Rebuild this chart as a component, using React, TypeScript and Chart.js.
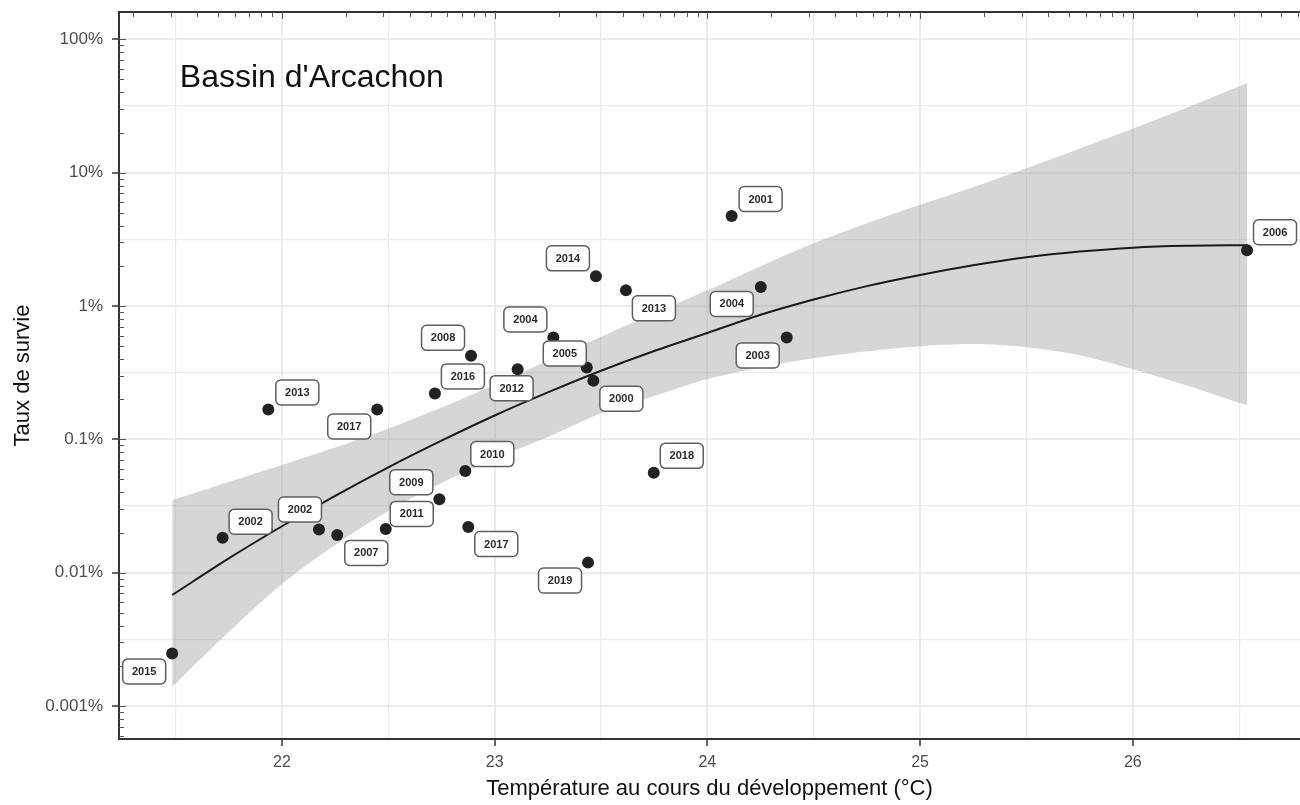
import React, { useEffect, useRef } from 'react';
import { Chart, registerables } from 'chart.js';

Chart.register(...registerables);

// ---- data ----
const yearLabels = ['2015', '2002', '2013', '2002', '2007', '2017', '2011', '2016', '2009', '2008', '2010', '2017',
  '2012', '2004', '2005', '2000', '2019', '2014', '2013', '2018', '2001', '2004', '2003', '2006'];
const temperature = [21.484, 21.721, 21.936, 22.174, 22.26, 22.448, 22.488, 22.719, 22.74, 22.889, 22.862, 22.876,
  23.108, 23.276, 23.433, 23.464, 23.439, 23.476, 23.617, 23.748, 24.114, 24.251, 24.373, 26.537];
const survivalPct = [0.00248, 0.0183, 0.1675, 0.0211, 0.0192, 0.1675, 0.0213, 0.221, 0.0356, 0.423, 0.0578, 0.022,
  0.336, 0.581, 0.346, 0.275, 0.0119, 1.67, 1.31, 0.0561, 4.73, 1.39, 0.581, 2.62];

// smoothed fit and its confidence band (values in %)
const fitTemp = [21.484, 21.75, 22, 22.25, 22.5, 22.75, 23, 23.25, 23.5, 23.75, 24, 24.25, 24.5, 24.75, 25, 25.25,
  25.5, 25.75, 26, 26.25, 26.537];
const fitMid = [0.0068, 0.0128, 0.0223, 0.0377, 0.0617, 0.0977, 0.151, 0.225, 0.327, 0.46, 0.628, 0.86, 1.12, 1.41,
  1.71, 2.02, 2.32, 2.56, 2.74, 2.83, 2.86];
const fitUpper = [0.035, 0.0478, 0.0641, 0.0867, 0.12, 0.173, 0.257, 0.389, 0.589, 0.883, 1.31, 1.99, 2.96, 4.18,
  5.75, 7.78, 10.8, 15.1, 21.4, 30.5, 47.0];
const fitLower = [0.00139, 0.00359, 0.00822, 0.0161, 0.029, 0.047, 0.0717, 0.104, 0.157, 0.211, 0.283, 0.348, 0.406,
  0.458, 0.5, 0.518, 0.491, 0.428, 0.336, 0.255, 0.18];

// axes
const xTickValues = [22, 23, 24, 25, 26];
const xTickLabels = ['22', '23', '24', '25', '26'];
const xGridValues = [21.5, 22, 22.5, 23, 23.5, 24, 24.5, 25, 25.5, 26, 26.5];
const yTickValues = [0.001, 0.01, 0.1, 1, 10, 100];
const yTickLabels = ['0.001%', '0.01%', '0.1%', '1%', '10%', '100%'];
const yGridValues = [0.001, 0.003162, 0.01, 0.03162, 0.1, 0.3162, 1, 3.162, 10, 31.62, 100];

const panelTitle = "Bassin d'Arcachon";
const xTitle = 'Température au cours du développement (°C)';
const yTitle = 'Taux de survie';

// label box offsets from their point (pixels, as placed by the repel layout)
const labelDX = [-28, 28, 29, -19, 29, -28, 26, 28, -28, -28, 27, 28, -6, -28, -22, 28, -28, -28, 28, 28, 29, -29, -29, 28];
const labelDY = [18, -16, -17, -20, 18, 17, -15, -17, -17, -18, -17, 17, 19, -18, -14, 18, 18, -18, 18, -17, -17, 17, 18, -18];

const FONT = '"Liberation Sans", Arial, Helvetica, sans-serif';

const xMajorIdx = (v: number) => xTickValues.findIndex((t) => Math.abs(t - v) < 1e-6);
const yMajorIdx = (v: number) => yTickValues.findIndex((t) => Math.abs(Math.log10(t) - Math.log10(v)) < 1e-4);

export default function App() {
  const ref = useRef<HTMLCanvasElement>(null);

  useEffect(() => {
    const canvas = ref.current;
    if (!canvas) return;
    Chart.defaults.font.family = FONT;

    const decor = {
      id: 'decor',
      afterDatasetsDraw(chart: any) {
        const { ctx, chartArea: a, scales } = chart;
        const xs = scales.x;
        const ys = scales.y;
        ctx.save();
        // top border of panel
        ctx.strokeStyle = '#333333';
        ctx.lineWidth = 2;
        ctx.beginPath();
        ctx.moveTo(a.left - 1, a.top);
        ctx.lineTo(a.right, a.top);
        ctx.stroke();

        // log ticks (left and top)
        ctx.strokeStyle = '#555555';
        ctx.lineWidth = 1;
        for (let k = -4; k <= 2; k++) {
          for (let m = 1; m <= 9; m++) {
            const v = m * Math.pow(10, k);
            if (v < ys.min || v > ys.max) continue;
            const py = Math.round(ys.getPixelForValue(v)) + 0.5;
            const len = m === 1 ? 7 : 5;
            ctx.beginPath();
            ctx.moveTo(a.left, py);
            ctx.lineTo(a.left + len, py);
            ctx.stroke();
          }
        }
        for (let k = 21; k <= 26; k++) {
          for (let m = 1; m <= 9; m++) {
            const xv = k + Math.log10(m);
            if (xv < xs.min || xv > xs.max) continue;
            const px = Math.round(xs.getPixelForValue(xv)) + 0.5;
            const len = m === 1 ? 7 : 5;
            ctx.beginPath();
            ctx.moveTo(px, a.top);
            ctx.lineTo(px, a.top + len);
            ctx.stroke();
          }
        }

        // panel title
        ctx.fillStyle = '#111111';
        ctx.font = `32px ${FONT}`;
        ctx.textAlign = 'left';
        ctx.textBaseline = 'alphabetic';
        ctx.fillText(panelTitle, xs.getPixelForValue(21.52), ys.getPixelForValue(44));

        // labels
        const bw = 43;
        const bh = 25;
        ctx.font = `bold 11px ${FONT}`;
        ctx.textAlign = 'center';
        ctx.textBaseline = 'middle';
        for (let i = 0; i < yearLabels.length; i++) {
          const px = xs.getPixelForValue(temperature[i]);
          const py = ys.getPixelForValue(survivalPct[i]);
          const cx = px + labelDX[i];
          const cy = py + labelDY[i];
          ctx.beginPath();
          ctx.roundRect(cx - bw / 2, cy - bh / 2, bw, bh, 5);
          ctx.fillStyle = '#ffffff';
          ctx.fill();
          ctx.strokeStyle = '#5f5f5f';
          ctx.lineWidth = 1.5;
          ctx.stroke();
          ctx.fillStyle = '#2b2b2b';
          ctx.fillText(yearLabels[i], cx, cy + 0.5);
        }
        ctx.restore();
      },
    };

    const chart = new Chart(canvas, {
      type: 'scatter',
      data: {
        datasets: [
          {
            type: 'scatter',
            label: 'points',
            data: temperature.map((t, i) => ({ x: t, y: survivalPct[i] })),
            pointRadius: 6,
            pointBackgroundColor: '#222222',
            pointBorderWidth: 0,
            order: 0,
          } as any,
          {
            type: 'line',
            label: 'fit',
            data: fitTemp.map((t, i) => ({ x: t, y: fitMid[i] })),
            borderColor: '#1a1a1a',
            borderWidth: 2,
            pointRadius: 0,
            tension: 0.3,
            fill: false,
            order: 1,
          },
          {
            type: 'line',
            label: 'upper',
            data: fitTemp.map((t, i) => ({ x: t, y: fitUpper[i] })),
            borderColor: 'rgba(0,0,0,0)',
            borderWidth: 0,
            pointRadius: 0,
            tension: 0.3,
            fill: '+1',
            backgroundColor: 'rgba(153,153,153,0.4)',
            order: 2,
          },
          {
            type: 'line',
            label: 'lower',
            data: fitTemp.map((t, i) => ({ x: t, y: fitLower[i] })),
            borderColor: 'rgba(0,0,0,0)',
            borderWidth: 0,
            pointRadius: 0,
            tension: 0.3,
            fill: false,
            order: 3,
          },
        ],
      },
      options: {
        responsive: false,
        animation: false,
        events: [],
        layout: { autoPadding: false, padding: { top: 12, left: 0, right: 0, bottom: 0 } },
        plugins: {
          legend: { display: false },
          tooltip: { enabled: false },
          filler: { drawTime: 'beforeDatasetsDraw' },
        },
        scales: {
          x: {
            type: 'linear',
            min: 21.234,
            max: 26.786,
            afterBuildTicks: (s: any) => {
              s.ticks = xGridValues.map((v) => ({ value: v }));
            },
            afterFit: (s: any) => {
              s.height = 66;
              s.paddingLeft = 0;
              s.paddingRight = 0;
              s.paddingTop = 0;
              s.paddingBottom = 0;
            },
            ticks: {
              autoSkip: false,
              maxRotation: 0,
              padding: 7,
              color: '#4d4d4d',
              font: { size: 16 },
              callback: (_v: any, i: number, ticks: any[]) => {
                const j = xMajorIdx(ticks[i].value);
                return j >= 0 ? xTickLabels[j] : '';
              },
            },
            grid: {
              color: '#ebebeb',
              lineWidth: (c: any) => (c.tick && xMajorIdx(c.tick.value) >= 0 ? 2 : 1.2),
              tickColor: (c: any) => (c.tick && xMajorIdx(c.tick.value) >= 0 ? '#333333' : 'rgba(0,0,0,0)'),
              tickLength: 7,
              tickWidth: 1.5,
            },
            border: { display: true, color: '#333333', width: 2 },
            title: {
              display: true,
              text: xTitle,
              color: '#111111',
              font: { size: 22 },
              padding: { top: 0, bottom: 3 },
            },
          },
          y: {
            type: 'logarithmic',
            min: 0.000566,
            max: 160.3,
            afterBuildTicks: (s: any) => {
              s.ticks = yGridValues.map((v) => ({ value: v }));
            },
            afterFit: (s: any) => {
              s.width = 119;
              s.paddingLeft = 0;
              s.paddingRight = 0;
              s.paddingTop = 0;
              s.paddingBottom = 0;
            },
            ticks: {
              autoSkip: false,
              padding: 9,
              color: '#4d4d4d',
              font: { size: 17 },
              callback: (_v: any, i: number, ticks: any[]) => {
                const j = yMajorIdx(ticks[i].value);
                return j >= 0 ? yTickLabels[j] : '';
              },
            },
            grid: {
              color: '#ebebeb',
              lineWidth: (c: any) => (c.tick && yMajorIdx(c.tick.value) >= 0 ? 2 : 1.2),
              tickColor: (c: any) => (c.tick && yMajorIdx(c.tick.value) >= 0 ? '#333333' : 'rgba(0,0,0,0)'),
              tickLength: 7,
              tickWidth: 1.5,
            },
            border: { display: true, color: '#333333', width: 2 },
            title: {
              display: true,
              text: yTitle,
              color: '#111111',
              font: { size: 22 },
              padding: { top: 10, bottom: 0 },
            },
          },
        },
      },
      plugins: [decor],
    } as any);

    return () => chart.destroy();
  }, []);

  return (
    <div style={{ position: 'fixed', left: 0, top: 0, width: 1300, height: 805, background: '#ffffff', overflow: 'hidden' }}>
      <canvas ref={ref} width={1300} height={805} style={{ width: 1300, height: 805, display: 'block' }} />
    </div>
  );
}
